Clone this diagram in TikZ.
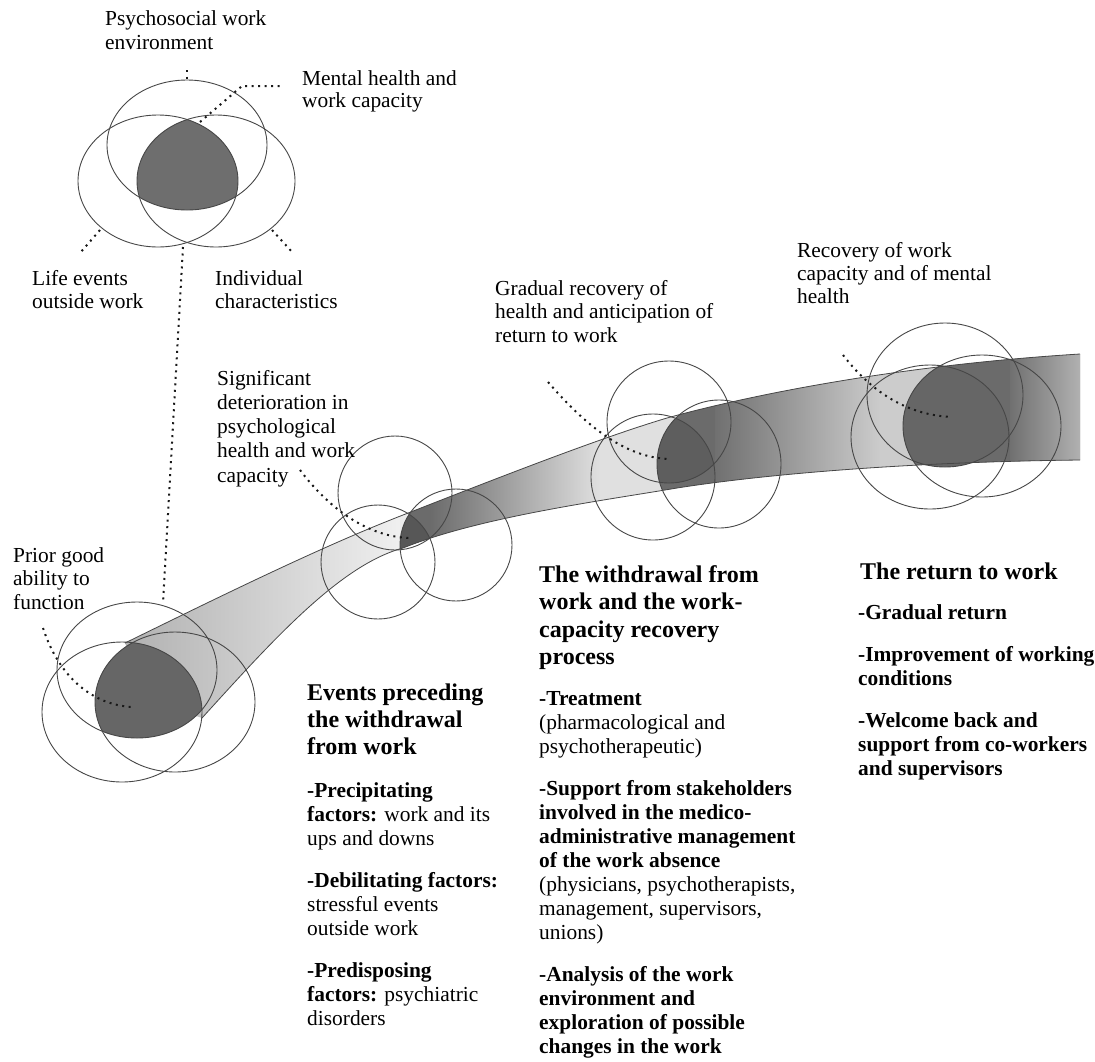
\documentclass[tikz,border=0pt]{standalone}
\usepackage{fontspec}
\setmainfont{Liberation Serif}
\newcommand{\tblock}[2]{\vtop{\baselineskip=#1pt\lineskiplimit=-60pt\lineskip=0pt #2}}
\begin{document}
\begin{tikzpicture}[x=1pt,y=-1pt,
  ell/.style={draw=black!72, line width=0.9pt},
  rib/.style={draw=black!72, line width=0.8pt},
  leader/.style={draw=black!90, line width=2pt, dash pattern=on 2pt off 4.5pt},
  lbl/.style={anchor=base west, inner sep=0pt, font=\fontsize{21.4}{24}\selectfont},
  head/.style={anchor=base west, inner sep=0pt, font=\fontsize{24}{27}\selectfont\bfseries},
]
\useasboundingbox (0,0) rectangle (1095,1061);

% ---------- ribbon fill ----------
\begin{scope}
  \clip (125,643) .. controls (225,594) and (323,546) .. (403,515)
        .. controls (500,477) and (600,438) .. (667,418)
        .. controls (750,395) and (900,365) .. (1080,354)
        -- (1080,460)
        .. controls (900,462) and (760,475) .. (677,488)
        .. controls (600,501) and (480,517) .. (403,548)
        .. controls (340,565) and (272,641) .. (202,718)
        .. controls (150,700) .. (125,643) -- cycle;
  \shade[left color=black!32, right color=black!6] (110,300) rectangle (401,760);
  \fill[black!8] (400,300) rectangle (1090,760);
  % gradient after group 2
  \begin{scope}
    \clip (456,300) -- (456,489) arc[start angle=90, end angle=270, x radius=56pt, y radius=56pt]
          -- (456,760) -- (1090,760) -- (1090,300) -- cycle;
    \fill[black!58] (380,300) rectangle (431,760);
    \shade[left color=black!58, right color=black!12] (430,300) rectangle (601,760);
    \fill[black!12] (600,300) rectangle (1090,760);
  \end{scope}
  % gradient after group 3
  \begin{scope}
    \clip (719,300) -- (719,400) arc[start angle=90, end angle=270, x radius=62pt, y radius=64pt]
          -- (719,760) -- (1090,760) -- (1090,300) -- cycle;
    \fill[black!58] (640,300) rectangle (716,760);
    \shade[left color=black!56, right color=black!20] (715,300) rectangle (881,760);
    \fill[black!20] (880,300) rectangle (1090,760);
  \end{scope}
  % gradient after group 4
  \begin{scope}
    \clip (982,300) -- (982,355) arc[start angle=90, end angle=270, x radius=79pt, y radius=71pt]
          -- (982,760) -- (1090,760) -- (1090,300) -- cycle;
    \fill[black!58] (880,300) rectangle (1011,760);
    \shade[left color=black!56, right color=black!27] (1010,300) rectangle (1090,760);
  \end{scope}
\end{scope}

% ---------- dark intersections ----------
\begin{scope}
  \clip (187,145) ellipse [x radius=80pt, y radius=65pt];
  \clip (158,181) ellipse [x radius=80pt, y radius=66pt];
  \fill[black!57] (216,181) ellipse [x radius=79pt, y radius=66pt];
\end{scope}
\begin{scope}
  \clip (137,670) ellipse [x radius=80pt, y radius=68pt];
  \clip (122,712) ellipse [x radius=80pt, y radius=70pt];
  \fill[black!60] (175,702) ellipse [x radius=80pt, y radius=70pt];
\end{scope}
\begin{scope}
  \clip (125,643) .. controls (225,594) and (323,546) .. (403,515)
        .. controls (500,477) and (600,438) .. (667,418)
        .. controls (750,395) and (900,365) .. (1080,354)
        -- (1080,460)
        .. controls (900,462) and (760,475) .. (677,488)
        .. controls (600,501) and (480,517) .. (403,548)
        .. controls (340,565) and (272,641) .. (202,718)
        .. controls (150,700) .. (125,643) -- cycle;
  \clip (395,493) circle [radius=57pt];
  \clip (378,562) circle [radius=57pt];
  \fill[black!66] (456,545) circle [radius=56pt];
\end{scope}
\begin{scope}
  \clip (125,643) .. controls (225,594) and (323,546) .. (403,515)
        .. controls (500,477) and (600,438) .. (667,418)
        .. controls (750,395) and (900,365) .. (1080,354)
        -- (1080,460)
        .. controls (900,462) and (760,475) .. (677,488)
        .. controls (600,501) and (480,517) .. (403,548)
        .. controls (340,565) and (272,641) .. (202,718)
        .. controls (150,700) .. (125,643) -- cycle;
  \clip (669,422) ellipse [x radius=62pt, y radius=61pt];
  \clip (653,477) ellipse [x radius=62pt, y radius=63pt];
  \fill[black!63] (719,464) ellipse [x radius=62pt, y radius=64pt];
\end{scope}
\begin{scope}
  \clip (945,395) ellipse [x radius=78pt, y radius=72pt];
  \clip (930,437) ellipse [x radius=79pt, y radius=72pt];
  \fill[black!60] (982,426) ellipse [x radius=79pt, y radius=71pt];
\end{scope}

% ---------- ribbon outline ----------
\draw[rib] (125,643) .. controls (225,594) and (323,546) .. (403,515)
        .. controls (500,477) and (600,438) .. (667,418)
        .. controls (750,395) and (900,365) .. (1080,354);
\draw[rib] (1080,460) .. controls (900,462) and (760,475) .. (677,488)
        .. controls (600,501) and (480,517) .. (403,548)
        .. controls (340,565) and (272,641) .. (202,718);

% ---------- ellipse outlines ----------
\draw[ell] (187,145) ellipse [x radius=80pt, y radius=65pt];
\draw[ell] (158,181) ellipse [x radius=80pt, y radius=66pt];
\draw[ell] (216,181) ellipse [x radius=79pt, y radius=66pt];

\draw[ell] (137,670) ellipse [x radius=80pt, y radius=68pt];
\draw[ell] (122,712) ellipse [x radius=80pt, y radius=70pt];
\draw[ell] (175,702) ellipse [x radius=80pt, y radius=70pt];

\draw[ell] (395,493) circle [radius=57pt];
\draw[ell] (378,562) circle [radius=57pt];
\draw[ell] (456,545) circle [radius=56pt];

\draw[ell] (669,422) ellipse [x radius=62pt, y radius=61pt];
\draw[ell] (653,477) ellipse [x radius=62pt, y radius=63pt];
\draw[ell] (719,464) ellipse [x radius=62pt, y radius=64pt];

\draw[ell] (945,395) ellipse [x radius=78pt, y radius=72pt];
\draw[ell] (930,437) ellipse [x radius=79pt, y radius=72pt];
\draw[ell] (982,426) ellipse [x radius=79pt, y radius=71pt];

% ---------- leader coordinates ----------
\coordinate (psyA) at (187,70);   \coordinate (psyB) at (187,80);
\coordinate (menA) at (200,122);  \coordinate (menB) at (242,86); \coordinate (menC) at (282,86);
\coordinate (lifA) at (100,230);  \coordinate (lifB) at (80,253);
\coordinate (indA) at (272,230);  \coordinate (indB) at (293,253);
\coordinate (lngA) at (183,247);  \coordinate (lngB) at (163,603);
\coordinate (priA) at (43,628);   \coordinate (priB) at (132,707);
\coordinate (sigA) at (300,470);  \coordinate (sigB) at (412,538);
\coordinate (graA) at (548,382);  \coordinate (graB) at (670,459);
\coordinate (recA) at (843,355);  \coordinate (recB) at (952,417);

\draw[leader] (psyA) -- (psyB);
\draw[leader] (menA) -- (menB) -- (menC);
\draw[leader] (lifA) -- (lifB);
\draw[leader] (indA) -- (indB);
\draw[leader] (lngA) -- (lngB);
\draw[leader] (priA) .. controls (60,680) and (95,705) .. (priB);
\draw[leader] (sigA) .. controls (330,510) and (370,538) .. (sigB);
\draw[leader] (graA) .. controls (585,425) and (625,458) .. (graB);
\draw[leader] (recA) .. controls (870,390) and (905,415) .. (recB);

% ---------- labels ----------
\node[lbl] (psy) at (105,25) {\tblock{24.5}{\hbox{Psychosocial work}\hbox{environment}}};
\node[lbl] (men) at (302,85) {\tblock{22.5}{\hbox{Mental health and}\hbox{work capacity}}};
\node[lbl] (lif) at (32,285) {\tblock{23}{\hbox{Life events}\hbox{outside work}}};
\node[lbl] (ind) at (215,285) {\tblock{23}{\hbox{Individual}\hbox{characteristics}}};
\node[lbl] (pri) at (13,562) {\tblock{23.5}{\hbox{Prior good}\hbox{ability to}\hbox{function}}};
\node[lbl] (sig) at (217,385) {\tblock{24.3}{\hbox{Significant}\hbox{deterioration in}\hbox{psychological}\hbox{health and work}\hbox{capacity}}};
\node[lbl] (gra) at (495,295) {\tblock{23.5}{\hbox{Gradual recovery of}\hbox{health and anticipation of}\hbox{return to work}}};
\node[lbl] (rec) at (797,257) {\tblock{23}{\hbox{Recovery of work}\hbox{capacity and of mental}\hbox{health}}};

% ---------- column: events ----------
\node[head] (evH) at (307,700) {\tblock{27}{\hbox{Events preceding}\hbox{the withdrawal}\hbox{from work}}};
\node[lbl] (evB) at (307,797) {\tblock{24}{%
  \hbox{\textbf{-Precipitating}}\hbox{\textbf{factors:} work and its}\hbox{ups and downs}\vskip18pt
  \hbox{\textbf{-Debilitating factors:}}\hbox{stressful events}\hbox{outside work}\vskip18pt
  \hbox{\textbf{-Predisposing}}\hbox{\textbf{factors:} psychiatric}\hbox{disorders}}};

% ---------- column: withdrawal ----------
\node[head] (wdH) at (539,582) {\tblock{27.5}{\hbox{The withdrawal from}\hbox{work and the work-}\hbox{capacity recovery}\hbox{process}}};
\node[lbl] (wdB) at (539,705) {\tblock{24}{%
  \hbox{\textbf{-Treatment}}\hbox{(pharmacological and}\hbox{psychotherapeutic)}\vskip18pt
  \hbox{\textbf{-Support from stakeholders}}\hbox{\textbf{involved in the medico-}}\hbox{\textbf{administrative management}}\hbox{\textbf{of the work absence}}\hbox{(physicians, psychotherapists,}\hbox{management, supervisors,}\hbox{unions)}\vskip18pt
  \hbox{\textbf{-Analysis of the work}}\hbox{\textbf{environment and}}\hbox{\textbf{exploration of possible}}\hbox{\textbf{changes in the work}}}};

% ---------- column: return ----------
\node[head] (rtH) at (860,579) {The return to work};
\node[lbl] (rtB) at (858,619) {\tblock{24}{\bfseries
  \hbox{-Gradual return}\vskip18pt
  \hbox{-Improvement of working}\hbox{conditions}\vskip18pt
  \hbox{-Welcome back and}\hbox{support from co-workers}\hbox{and supervisors}}};
\end{tikzpicture}
\end{document}
